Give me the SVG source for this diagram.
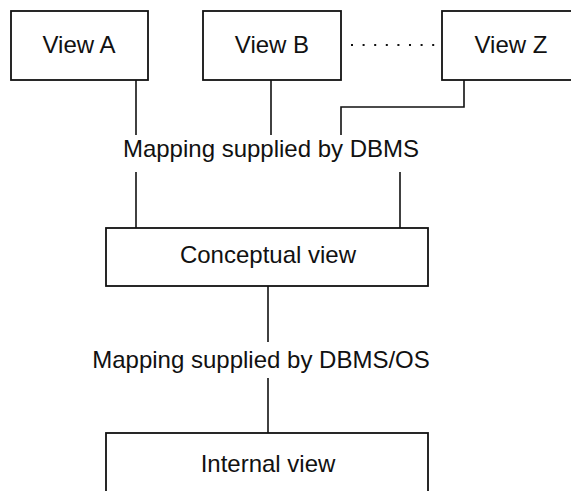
<svg xmlns="http://www.w3.org/2000/svg" width="571" height="491" viewBox="0 0 571 491">
<style>
.box{fill:#fff;stroke:#111;stroke-width:1.8}
.ln{fill:none;stroke:#111;stroke-width:1.6}
.dot{fill:none;stroke:#111;stroke-width:2;stroke-dasharray:2 9.6}
text{font-family:"Liberation Sans",Arial,sans-serif;font-size:24px;fill:#111;text-anchor:middle}
</style>
<rect width="571" height="491" fill="#fff"/>
<g id="connectors">
<line class="ln" x1="136" y1="80" x2="136" y2="135"/>
<line class="ln" x1="271" y1="80" x2="271" y2="135"/>
<polyline class="ln" points="464,80 464,107 341,107 341,135"/>
<line class="dot" x1="351" y1="45" x2="442" y2="45"/>
<line class="ln" x1="136" y1="172" x2="136" y2="228"/>
<line class="ln" x1="400" y1="172" x2="400" y2="228"/>
<line class="ln" x1="268" y1="286" x2="268" y2="342"/>
<line class="ln" x1="268" y1="378" x2="268" y2="433"/>
<text x="271" y="157">Mapping supplied by DBMS</text>
<text x="261" y="368">Mapping supplied by DBMS/OS</text>
</g>
<g id="viewA">
<rect class="box" x="11" y="11" width="137" height="69"/>
<text x="79" y="53">View A</text>
</g>
<g id="viewB">
<rect class="box" x="203" y="11" width="138" height="69"/>
<text x="272" y="53">View B</text>
</g>
<g id="viewZ">
<rect class="box" x="442" y="11" width="140" height="69"/>
<text x="511" y="53">View Z</text>
</g>
<g id="conceptual">
<rect class="box" x="106" y="228" width="322" height="58"/>
<text x="268" y="263">Conceptual view</text>
</g>
<g id="internal">
<rect class="box" x="106" y="433" width="322" height="70"/>
<text x="268" y="472">Internal view</text>
</g>
</svg>
